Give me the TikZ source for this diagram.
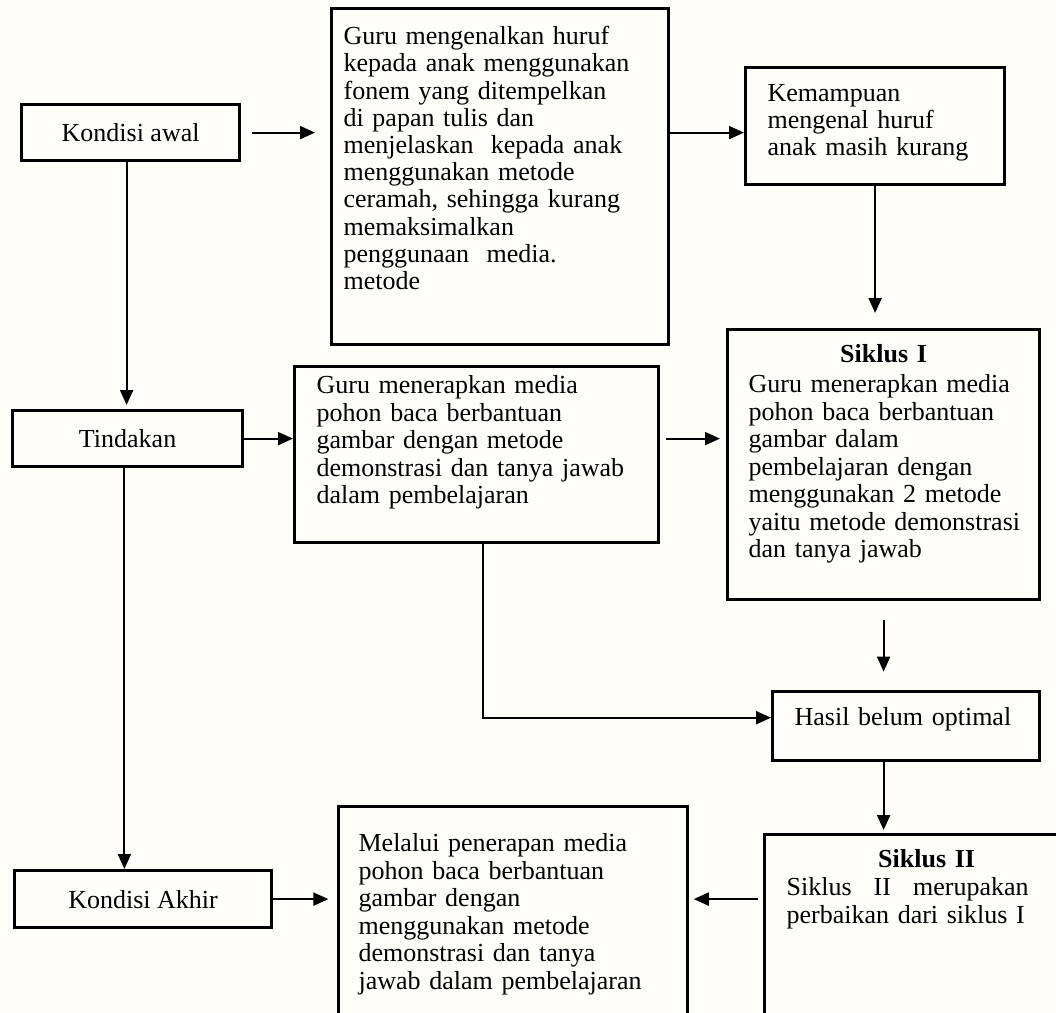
\documentclass[tikz,border=0pt]{standalone}
\usepackage{fontspec}
\setmainfont{Liberation Serif}
\usetikzlibrary{arrows.meta}
\definecolor{paper}{RGB}{254,253,248}

\begin{document}
\begin{tikzpicture}[x=0.5pt, y=-0.5pt,
  every node/.style={font=\fontsize{13}{13.6}\selectfont},
  box/.style={draw, line width=\LW, anchor=north west, inner ysep=0pt, align=left},
  termbox/.style={draw, line width=\LW, anchor=north west, inner sep=0pt, align=center},
  flow/.style={line width=1pt, -{Triangle[length=7.5pt, width=6.5pt]}}]

\newcommand\LW{1.6pt}
\newcommand\LOOSE{\fontsize{13}{13.75}\selectfont}

\useasboundingbox (0,0) rectangle (1056,1013);
\fill[paper] (0,0) rectangle (1056,1013);
\clip (0,0) rectangle (1056,1013);

%% left column
\node[termbox, minimum width=109pt, minimum height=28pt] (awal) at (20,103) {Kondisi awal};
\node[termbox, minimum width=115pt, minimum height=28pt] (tindakan) at (11,409) {Tindakan};
\node[termbox, minimum width=128.5pt, minimum height=28.5pt] (akhir) at (13,869) {Kondisi Akhir};

%% kondisi awal
\node[box, inner xsep=6pt, text width=156.5pt, text height=18pt, text depth=150pt] (kenal) at (330,7)
{Guru mengenalkan huruf\\ kepada anak menggunakan\\ fonem yang ditempelkan\\ di papan tulis dan\\
menjelaskan\ \ kepada anak\\ menggunakan metode\\ ceramah, sehingga kurang\\ memaksimalkan\\
penggunaan\ \ media.\\ metode};
\node[box, font=\fontsize{13}{13.5}\selectfont, inner xsep=11pt, text width=107.5pt,
  text height=17pt, text depth=41.5pt] (mampu) at (744,66)
{Kemampuan\\ mengenal huruf\\ anak masih kurang};

%% tindakan
\node[box, font=\LOOSE, inner xsep=11pt, text width=160pt,
  text height=13.5pt, text depth=74.5pt] (terapkan) at (293,365)
{Guru menerapkan media\\ pohon baca berbantuan\\ gambar dengan metode\\
demonstrasi dan tanya jawab\\ dalam pembelajaran};
\node[box, font=\LOOSE, inner xsep=10.5pt, text width=135pt,
  text height=16.5pt, text depth=118.5pt] (siklus1) at (726,328)
{\makebox[\linewidth]{\textbf{Siklus I}}\\[1.25pt] Guru menerapkan media\\ pohon baca berbantuan\\
gambar dalam\\ pembelajaran dengan\\ menggunakan 2 metode\\ \mbox{yaitu metode demonstrasi}\\ dan tanya jawab};
\node[box, inner xsep=11pt, text width=111.5pt, text height=17pt, text depth=17.5pt] (hasil) at (771,690)
{Hasil belum optimal};

%% kondisi akhir
\node[box, font=\LOOSE, inner xsep=10pt, text width=154.5pt,
  text height=22.5pt, text depth=95pt] (melalui) at (337,805)
{Melalui penerapan media\\ pohon baca berbantuan\\ gambar dengan\\ menggunakan metode\\
demonstrasi dan tanya\\ jawab dalam pembelajaran};
\node[box, font=\fontsize{13}{14}\selectfont, inner xsep=11pt, text width=140pt,
  text height=16.5pt, text depth=87pt] (siklus2) at (763,833)
{\makebox[\linewidth]{\textbf{Siklus II}}\\
\makebox[121pt][l]{Siklus\hfill II\hfill merupakan}\\ perbaikan dari siklus I};

%% connectors
\draw[flow, shorten <=5.6pt, shorten >=7.5pt] (awal.east) -- (awal.east -| kenal.west);
\draw[flow] (awal.east -| kenal.east) -- (awal.east -| mampu.west);
\draw[flow, shorten >=7.5pt] (mampu.south) -- (mampu.south |- siklus1.north);
\draw[flow, shorten >=2pt] ([xshift=-2pt]awal.south) -- ([xshift=-2pt]awal.south |- tindakan.north);
\draw[flow] ([xshift=-1.6pt]tindakan.south) -- ([xshift=-1.6pt]tindakan.south |- akhir.north);
\draw[flow] (tindakan.east) -- (tindakan.east -| terapkan.west);
\draw[flow, shorten <=2.9pt, shorten >=3pt] (tindakan.east -| terapkan.east) -- (tindakan.east -| siklus1.west);
\draw[flow, shorten <=9.3pt, shorten >=9.2pt] (siklus1.south) -- (siklus1.south |- hasil.north);
\draw[flow] ([xshift=3pt]terapkan.south) |- ([yshift=4.2pt]hasil.west);
\draw[flow, shorten >=1.5pt] (siklus1.south |- hasil.south) -- (siklus1.south |- siklus2.north);
\draw[flow, shorten <=2.3pt, shorten >=2.3pt] (akhir.east -| siklus2.west) -- (akhir.east -| melalui.east);
\draw[flow, shorten >=4.3pt] (akhir.east) -- (akhir.east -| melalui.west);
\end{tikzpicture}
\end{document}
